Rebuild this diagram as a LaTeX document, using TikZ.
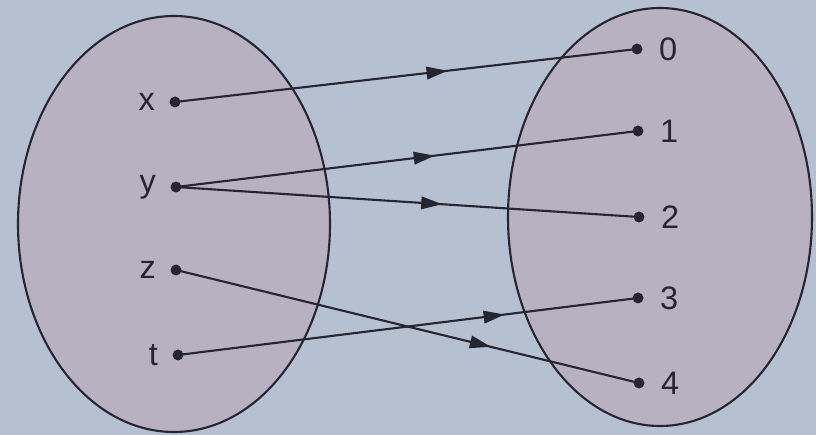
\documentclass[tikz,border=0pt]{standalone}
\usepackage{fontspec}
\setmainfont{Liberation Sans}
\usetikzlibrary{arrows.meta,decorations.markings}

\definecolor{pagebg}{RGB}{181,192,208}
\definecolor{setfill}{RGB}{184,177,194}
\definecolor{inkline}{RGB}{38,38,48}

\tikzset{
  elem/.style={circle, fill=inkline, inner sep=0pt, minimum size=0.22cm},
  mapto/.style={draw=inkline, line width=1.2pt,
    postaction={decorate, decoration={markings,
      mark=at position #1 with {\arrow{Triangle[length=0.42cm,width=0.25cm]}}}}},
  setline/.style={draw=inkline, line width=1.2pt, fill=setfill}
}

\begin{document}
\begin{tikzpicture}[x=0.02cm, y=-0.02cm, font=\fontsize{18.5}{20}\selectfont, text=inkline]
  % background, fixes the size of the page (816 x 435 px)
  \fill[pagebg] (0,0) rectangle (816,435);

  % --- the two sets ---
  \draw[setline] (174,224) ellipse [x radius=156, y radius=208];
  \draw[setline] (660,217) ellipse [x radius=152, y radius=209];

  % --- elements of the domain ---
  \node[elem, label={[label distance=0.16cm]left:x}] (x) at (175,102) {};
  \node[elem, label={[label distance=0.16cm]left:y}] (y) at (176,187) {};
  \node[elem, label={[label distance=0.16cm]left:z}] (z) at (176,270) {};
  \node[elem, label={[label distance=0.16cm]left:t}] (t) at (178,355) {};

  % --- elements of the codomain ---
  \node[elem, label={[label distance=0.2cm]right:0}] (n0) at (637,49) {};
  \node[elem, label={[label distance=0.2cm]right:1}] (n1) at (638,131) {};
  \node[elem, label={[label distance=0.2cm]right:2}] (n2) at (639,217) {};
  \node[elem, label={[label distance=0.2cm]right:3}] (n3) at (638,298) {};
  \node[elem, label={[label distance=0.2cm]right:4}] (n4) at (639,383) {};

  % --- the mapping ---
  \draw[mapto=0.59] (x.center) -- (n0.center);
  \draw[mapto=0.56] (y.center) -- (n1.center);
  \draw[mapto=0.575] (y.center) -- (n2.center);
  \draw[mapto=0.68] (z.center) -- (n4.center);
  \draw[mapto=0.71] (t.center) -- (n3.center);
\end{tikzpicture}
\end{document}
